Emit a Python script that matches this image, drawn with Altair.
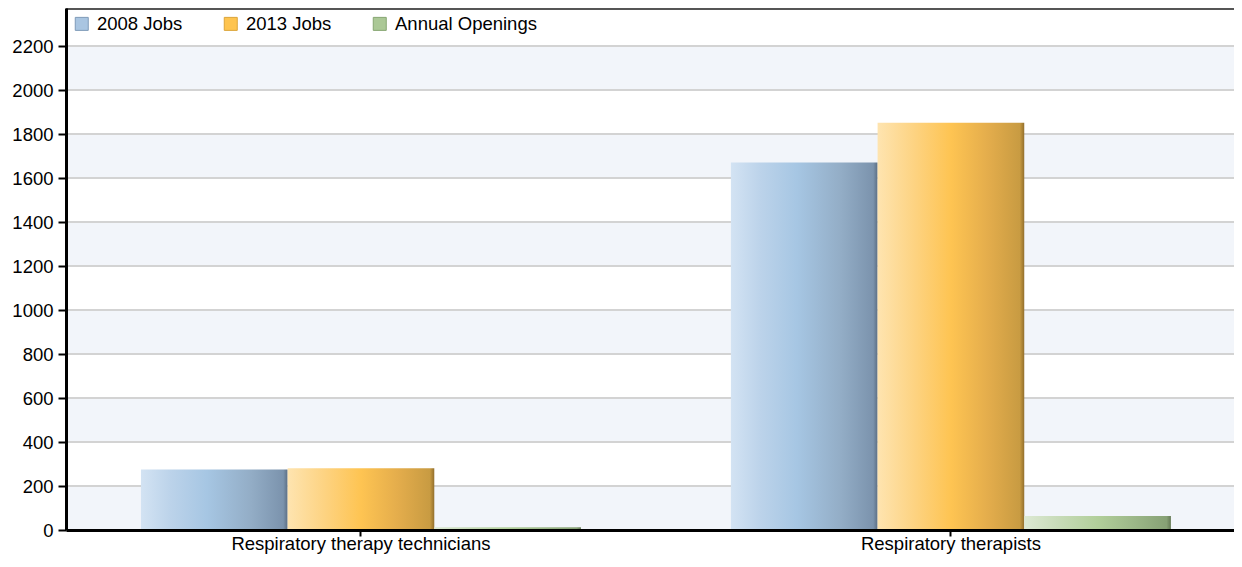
import altair as alt
import pandas as pd

# ---- data ----
categories = ["Respiratory therapy technicians", "Respiratory therapists"]
series_names = ["2008 Jobs", "2013 Jobs", "Annual Openings"]
jobs_2008 = [275, 1671]
jobs_2013 = [281, 1851]
annual_openings = [12, 64]
y_ticks = list(range(0, 2201, 200))
y_max = 2373

rows = []
for i, c in enumerate(categories):
    for s, vals in zip(series_names, [jobs_2008, jobs_2013, annual_openings]):
        rows.append({"category": c, "series": s, "value": vals[i]})
df = pd.DataFrame(rows)

bands = pd.DataFrame({"y0": y_ticks[0::2], "y1": y_ticks[1::2]})
grid = pd.DataFrame({"tick": y_ticks[1:]})

# ---- styling ----
W, H = 1168, 522
FONT = "Liberation Sans"
FS = 18.5

gradients = {
    "2008 Jobs": [("#d3e3f3", 0), ("#bcd3ea", 0.2), ("#a6c6e3", 0.45), ("#93adc6", 0.75), ("#7b93ad", 0.97), ("#5c6f84", 1)],
    "2013 Jobs": [("#fee4b0", 0), ("#fdd382", 0.25), ("#fec452", 0.5), ("#e4ad4c", 0.75), ("#c89b42", 0.97), ("#936f2c", 1)],
    "Annual Openings": [("#dde9d3", 0), ("#c6dab6", 0.25), ("#b2cf9a", 0.5), ("#9cb788", 0.75), ("#87a175", 0.97), ("#667a56", 1)],
}
legend_fill = ["#a9c5e1", "#fec44f", "#abc896"]
legend_stroke = ["#7f9ab8", "#dba43a", "#86a671"]

y_scale = alt.Scale(domain=[0, y_max], nice=False, zero=True)
y_axis = alt.Axis(
    title=None, values=y_ticks, grid=False, format="d",
    labelFont=FONT, labelFontSize=FS, labelColor="black", labelPadding=5,
    domainColor="black", domainWidth=3, tickColor="black", tickWidth=2, tickSize=8,
    zindex=1,
)
x_enc = alt.X(
    "category:N", sort=categories,
    scale=alt.Scale(paddingInner=0.2542, paddingOuter=0.117, align=0.543),
    axis=alt.Axis(
        title=None, labelAngle=0, labelFont=FONT, labelFontSize=FS, labelColor="black",
        labelLimit=0, labelBaseline="alphabetic", labelPadding=13.5,
        domainColor="black", domainWidth=3,
        tickColor="black", tickWidth=2, tickSize=6, zindex=1,
    ),
)
xoff_enc = alt.XOffset("series:N", sort=series_names,
                       scale=alt.Scale(domain=series_names, paddingInner=0, paddingOuter=0))

band_layer = alt.Chart(bands).mark_rect(fill="#f2f5fa").encode(
    y=alt.Y("y0:Q", scale=y_scale, axis=y_axis),
    y2="y1:Q",
    x=alt.value(0),
    x2=alt.value(W),
)

grid_layer = alt.Chart(grid).mark_rule(color="#d3d3d3", strokeWidth=2).encode(
    y=alt.Y("tick:Q", scale=y_scale, axis=y_axis),
    x=alt.value(0),
    x2=alt.value(W),
)

legend_def = alt.Legend(
    title=None, orient="none", legendX=6.5, legendY=6.5, direction="horizontal",
    symbolType="square", symbolSize=169, symbolStrokeWidth=1, symbolOpacity=1,
    labelFont=FONT, labelFontSize=FS, labelColor="black", labelOffset=6,
    columnPadding=39, padding=0,
)

legend_layer = alt.Chart(df).mark_bar(opacity=0).encode(
    x=x_enc,
    xOffset=xoff_enc,
    y=alt.Y("value:Q", scale=y_scale, axis=y_axis),
    color=alt.Color("series:N", sort=series_names,
                    scale=alt.Scale(domain=series_names, range=legend_fill), legend=legend_def),
    stroke=alt.Stroke("series:N", sort=series_names,
                      scale=alt.Scale(domain=series_names, range=legend_stroke), legend=legend_def),
)

bar_layers = []
for s in series_names:
    g = alt.Gradient(
        gradient="linear",
        stops=[alt.GradientStop(color=c, offset=o) for c, o in gradients[s]],
        x1=0, x2=1, y1=0, y2=0,
    )
    bar_layers.append(
        alt.Chart(df).transform_filter(alt.datum.series == s).mark_bar(fill=g).encode(
            x=x_enc,
            xOffset=xoff_enc,
            y=alt.Y("value:Q", scale=y_scale, axis=y_axis),
        )
    )

top_rule = alt.Chart(bands).mark_rule(color="#555555", strokeWidth=2).encode(
    x=alt.value(0), x2=alt.value(W), y=alt.value(0.5)
)

chart = alt.layer(band_layer, grid_layer, legend_layer, *bar_layers, top_rule).properties(
    width=W, height=H,
    padding={"left": 58, "top": 0, "right": 0, "bottom": 24},
    autosize=alt.AutoSizeParams(type="none"),
    background="white",
).configure_view(stroke=None)

chart.save("out.html", embed_options={"renderer": "svg", "actions": False})
